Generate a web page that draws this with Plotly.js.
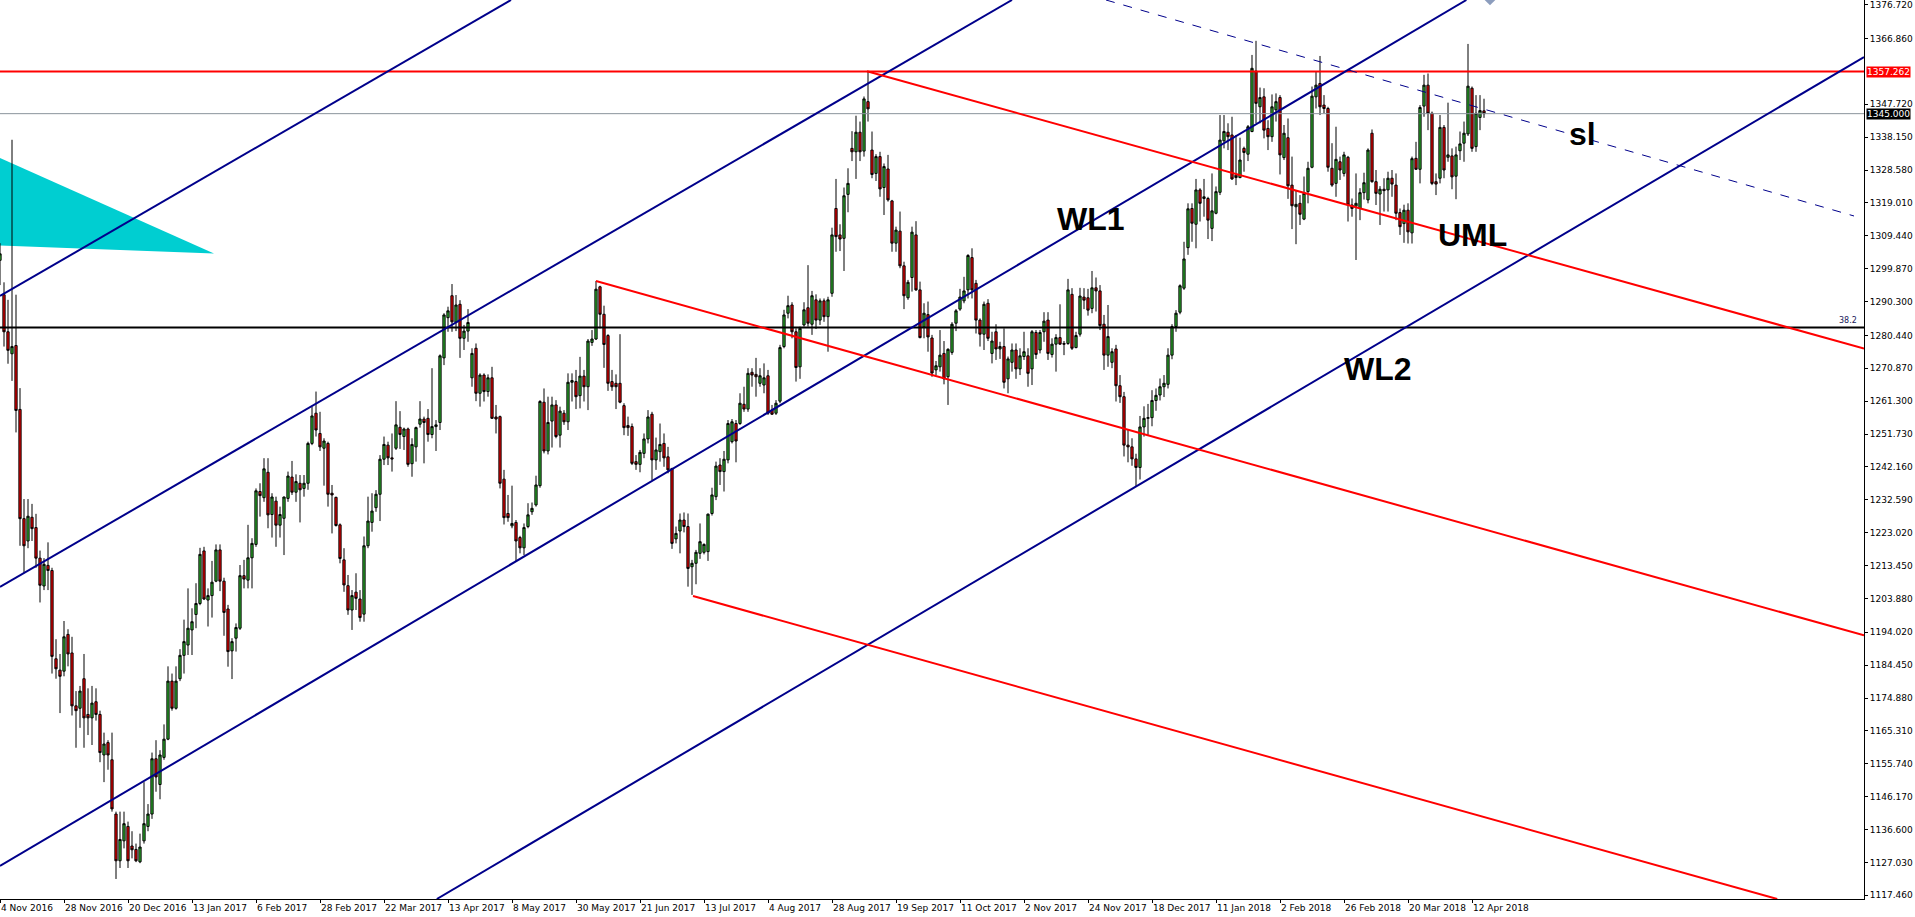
<!DOCTYPE html>
<html>
<head>
<meta charset="utf-8">
<script src="https://cdn.plot.ly/plotly-3.0.1.min.js"></script>
<style>
  html, body { margin: 0; padding: 0; background: #fff; }
  #chart { width: 1915px; height: 917px; }
</style>
</head>
<body>
<div id="chart"></div>
<script>
// GOLD, Daily - one entry per bar, bar 0 = 4 Nov 2016
var opens = [
1302.3,1292.3,1281.5,1275.1,1277.5,1258.9,1227.1,1220.6,1227.5,1224.5,
1215.6,1207.5,1213.5,1212.0,1186.3,1183.0,1182.7,1193.4,1188.0,1172.6,
1171.9,1180.5,1170.1,1169.1,1173.8,1170.1,1158.3,1161.9,1156.9,1141.1,
1127.5,1133.3,1137.5,1131.8,1130.8,1127.2,1133.3,1137.5,1141.1,1157.2,
1149.7,1157.6,1162.9,1179.8,1171.9,1180.5,1187.3,1190.3,1194.7,1199.2,
1202.4,1217.7,1203.4,1204.7,1208.9,1218.0,1208.9,1200.8,1188.6,1192.3,
1195.2,1210.5,1209.2,1215.7,1219.6,1235.0,1233.2,1240.6,1228.3,1232.2,
1225.2,1227.2,1233.0,1239.2,1234.8,1237.4,1235.9,1237.4,1249.0,1257.8,
1251.9,1247.6,1249.0,1234.5,1233.3,1225.3,1215.1,1207.6,1200.5,1205.7,
1203.7,1199.3,1219.2,1226.0,1230.3,1234.2,1244.4,1248.5,1244.8,1247.6,
1253.7,1251.0,1253.2,1243.1,1248.0,1254.6,1256.1,1256.3,1251.6,1253.9,
1255.1,1273.9,1285.6,1292.0,1284.3,1289.5,1279.6,1281.7,1268.1,1276.7,
1263.6,1268.9,1264.1,1268.1,1256.7,1256.8,1238.6,1228.6,1225.0,1226.0,
1221.6,1218.6,1224.8,1229.1,1231.1,1236.7,1261.0,1246.8,1255.5,1260.2,
1251.4,1257.8,1255.3,1266.8,1267.0,1262.9,1268.6,1265.5,1278.4,1279.4,
1294.6,1286.6,1280.4,1267.0,1266.5,1266.5,1260.0,1254.2,1253.9,1243.7,
1242.9,1246.1,1250.3,1257.5,1244.2,1246.6,1249.0,1245.1,1241.7,1221.2,
1223.5,1226.7,1224.8,1213.1,1214.1,1217.0,1217.3,1217.5,1228.6,1233.5,
1242.7,1240.8,1244.2,1249.5,1254.8,1254.8,1260.4,1259.0,1269.7,1269.1,
1266.5,1266.0,1268.7,1258.7,1257.8,1261.3,1277.2,1286.9,1289.3,1281.5,
1271.3,1283.5,1288.5,1283.7,1290.8,1284.9,1290.5,1285.9,1292.7,1317.4,
1309.7,1308.7,1321.5,1334.9,1333.9,1339.6,1334.1,1348.5,1334.4,1327.6,
1332.5,1323.5,1328.9,1319.6,1307.3,1310.8,1300.7,1291.4,1297.3,1309.7,
1293.7,1282.9,1286.5,1279.7,1270.4,1271.3,1275.2,1268.4,1275.5,1284.0,
1288.1,1290.5,1293.7,1303.1,1295.6,1284.9,1280.8,1289.8,1275.2,1281.5,
1276.5,1277.2,1267.8,1272.6,1276.2,1270.7,1274.3,1274.5,1270.7,1281.3,
1276.2,1281.5,1284.9,1274.9,1277.9,1279.8,1278.1,1278.1,1292.4,1276.9,
1280.8,1291.6,1291.4,1288.3,1294.3,1293.4,1283.7,1274.7,1272.6,1276.5,
1265.8,1262.6,1248.5,1248.0,1244.5,1242.0,1253.8,1256.3,1256.5,1261.5,
1263.1,1265.5,1266.2,1274.7,1283.0,1287.2,1294.2,1306.0,1317.4,1312.8,
1322.8,1320.3,1320.3,1311.6,1316.0,1322.1,1337.1,1339.6,1338.8,1327.1,
1326.4,1334.9,1333.2,1339.8,1357.4,1347.0,1349.9,1340.7,1338.3,1346.1,
1349.7,1332.2,1338.0,1324.2,1317.9,1318.9,1314.3,1322.3,1329.4,1349.9,
1353.8,1347.5,1346.5,1329.1,1324.7,1331.0,1327.6,1332.3,1318.4,1318.1,
1317.4,1322.0,1319.9,1339.3,1325.2,1321.6,1323.0,1322.8,1326.2,1324.2,
1316.2,1313.0,1316.9,1310.3,1332.0,1328.8,1347.2,1353.3,1345.1,1325.2,
1326.2,1341.0,1332.3,1332.7,1326.8,1334.2,1336.4,1339.1,1352.4,1335.4,
1343.9,1345.82
];
var highs = [
1307.3,1295.9,1290.8,1337.4,1292.3,1265.1,1232.8,1232.8,1231.4,1228.5,
1217.8,1215.6,1220.2,1212.8,1192.0,1187.7,1197.3,1194.9,1192.7,1176.9,
1178.4,1187.7,1177.7,1178.4,1177.7,1171.2,1164.8,1162.6,1164.8,1141.8,
1141.8,1141.8,1138.9,1136.1,1132.5,1135.4,1150.4,1144.0,1159.0,1162.6,
1159.7,1167.2,1184.1,1182.0,1184.1,1189.1,1197.7,1206.8,1201.0,1208.3,
1218.6,1218.9,1206.8,1214.8,1219.6,1219.6,1209.9,1202.0,1192.3,1196.6,
1213.6,1215.1,1225.3,1221.4,1235.9,1237.4,1244.7,1244.7,1234.5,1233.5,
1230.6,1233.5,1240.8,1243.9,1240.0,1239.8,1239.8,1249.5,1259.7,1264.1,
1258.2,1250.5,1249.5,1236.9,1233.5,1225.7,1218.5,1210.7,1206.3,1211.2,
1206.3,1221.9,1233.5,1234.5,1235.4,1245.6,1251.0,1249.5,1251.9,1261.3,
1258.4,1253.6,1253.6,1250.5,1253.9,1261.3,1256.8,1259.0,1270.9,1255.8,
1274.9,1286.9,1288.8,1295.4,1292.2,1290.7,1283.5,1288.1,1276.7,1278.1,
1269.4,1269.4,1269.1,1271.3,1260.2,1257.1,1241.3,1234.0,1236.7,1226.7,
1222.1,1225.7,1231.6,1231.8,1239.6,1261.6,1265.0,1262.6,1262.6,1261.6,
1259.7,1258.7,1269.4,1269.4,1270.4,1274.2,1270.4,1279.4,1282.0,1296.3,
1294.9,1289.1,1280.8,1270.4,1269.1,1280.8,1260.7,1256.8,1254.8,1245.6,
1247.1,1251.9,1258.7,1258.2,1250.7,1254.8,1251.9,1248.0,1241.9,1224.8,
1228.6,1228.9,1228.6,1215.1,1218.0,1225.7,1219.9,1228.6,1236.1,1243.7,
1244.7,1246.8,1255.8,1256.1,1255.8,1263.6,1265.5,1270.9,1270.9,1273.9,
1270.9,1272.3,1270.4,1260.2,1261.6,1277.7,1287.9,1292.0,1290.1,1282.5,
1283.0,1290.1,1300.9,1293.4,1292.4,1291.2,1291.2,1291.7,1311.8,1326.0,
1312.8,1323.5,1329.1,1339.9,1344.4,1342.7,1350.0,1357.2,1339.8,1333.2,
1333.9,1330.5,1333.0,1319.9,1312.1,1316.5,1301.9,1296.6,1312.1,1313.7,
1296.1,1289.8,1290.3,1280.6,1273.0,1282.0,1278.8,1276.7,1284.3,1288.1,
1294.0,1297.5,1304.1,1305.8,1296.6,1285.4,1290.3,1291.0,1281.5,1283.7,
1278.6,1282.5,1274.3,1278.1,1278.1,1276.7,1281.5,1276.7,1282.0,1282.0,
1282.0,1287.2,1287.2,1279.6,1280.8,1289.5,1278.8,1296.9,1294.2,1281.5,
1294.3,1294.2,1294.0,1299.2,1297.3,1295.1,1286.4,1289.3,1276.7,1277.7,
1268.9,1264.0,1253.0,1250.5,1246.0,1257.0,1259.8,1260.5,1264.5,1265.0,
1267.9,1268.9,1276.7,1283.7,1287.8,1295.3,1307.7,1318.9,1318.9,1326.0,
1323.3,1326.0,1320.8,1327.6,1323.8,1344.6,1344.6,1342.2,1344.1,1338.8,
1338.0,1335.4,1341.7,1362.1,1366.2,1352.6,1352.4,1343.1,1350.6,1350.9,
1350.4,1341.7,1343.6,1332.5,1322.5,1321.3,1326.7,1331.0,1352.9,1357.2,
1361.8,1350.4,1347.0,1336.4,1341.2,1332.5,1333.9,1332.7,1320.3,1327.6,
1323.3,1327.8,1334.9,1340.4,1328.6,1323.9,1326.2,1328.1,1328.6,1327.6,
1317.4,1318.5,1318.9,1332.5,1336.8,1347.5,1356.3,1356.7,1345.6,1327.6,
1344.6,1341.7,1348.2,1334.9,1335.4,1339.8,1342.7,1365.3,1352.9,1350.4,
1350.4,1349.35
];
var lows = [
1295.1,1277.2,1272.2,1267.2,1252.2,1219.2,1211.3,1218.5,1220.6,1212.8,
1202.7,1206.3,1206.3,1182.0,1180.5,1170.5,1181.2,1184.1,1169.8,1160.4,
1166.2,1160.4,1164.1,1161.2,1168.3,1156.2,1150.4,1154.0,1141.8,1122.2,
1125.4,1131.1,1125.4,1128.2,1127.1,1126.8,1132.5,1136.1,1139.7,1147.6,
1145.4,1156.9,1162.6,1171.2,1171.5,1179.8,1182.0,1187.4,1187.4,1195.2,
1201.9,1203.4,1195.7,1198.3,1208.6,1206.0,1193.0,1184.0,1180.4,1188.4,
1194.7,1206.8,1206.8,1206.8,1218.9,1227.7,1232.0,1224.3,1221.6,1218.9,
1221.6,1216.5,1232.0,1234.0,1232.0,1226.0,1233.5,1235.5,1248.5,1251.0,
1246.8,1236.7,1230.6,1222.8,1224.8,1214.1,1205.8,1199.1,1194.7,1200.5,
1197.1,1197.1,1218.5,1223.3,1229.1,1226.4,1242.7,1242.7,1240.8,1247.1,
1247.4,1247.1,1242.2,1239.3,1243.7,1253.6,1243.2,1249.5,1250.5,1246.8,
1252.9,1271.8,1281.5,1281.5,1281.7,1273.9,1276.2,1278.6,1265.5,1261.3,
1259.7,1261.2,1262.6,1256.1,1251.9,1235.9,1225.4,1226.2,1224.3,1214.6,
1217.0,1216.5,1224.3,1228.2,1230.6,1236.1,1246.1,1245.8,1247.8,1250.5,
1247.8,1254.4,1252.9,1261.2,1259.0,1259.2,1261.2,1258.7,1277.4,1279.1,
1282.5,1271.0,1264.3,1264.3,1259.0,1260.7,1251.4,1251.2,1242.7,1241.3,
1240.6,1244.7,1249.0,1238.3,1241.3,1243.7,1242.2,1240.3,1218.3,1219.9,
1217.0,1223.1,1207.3,1204.9,1208.0,1215.4,1216.7,1214.8,1228.0,1232.5,
1236.9,1235.0,1243.2,1249.0,1243.5,1254.4,1258.2,1258.2,1265.5,1262.6,
1265.5,1263.6,1257.3,1257.3,1257.3,1260.7,1276.7,1285.4,1279.6,1267.0,
1267.8,1283.0,1283.0,1280.6,1282.3,1283.5,1284.4,1275.7,1291.7,1304.8,
1305.0,1299.2,1316.3,1331.2,1326.0,1331.2,1332.5,1342.7,1326.2,1325.4,
1320.8,1315.5,1319.4,1304.8,1304.8,1300.0,1288.1,1290.8,1293.2,1293.4,
1279.6,1279.6,1275.7,1268.4,1268.9,1269.9,1266.2,1260.2,1274.8,1281.7,
1287.6,1289.8,1291.2,1291.2,1281.0,1277.2,1276.2,1278.8,1272.3,1273.3,
1273.6,1265.0,1263.6,1269.9,1267.8,1268.9,1273.3,1265.5,1266.0,1273.6,
1275.2,1278.6,1273.3,1274.0,1269.9,1277.7,1274.7,1277.7,1276.2,1276.7,
1280.1,1288.1,1286.2,1286.9,1287.4,1282.0,1270.4,1271.3,1270.9,1261.2,
1260.8,1245.2,1243.5,1242.5,1236.5,1238.5,1251.0,1251.5,1254.0,1258.5,
1261.5,1262.5,1265.0,1273.5,1281.5,1286.6,1293.7,1303.9,1307.7,1305.8,
1313.6,1315.0,1308.5,1307.9,1315.7,1321.3,1334.9,1334.4,1325.7,1324.2,
1326.2,1328.1,1331.2,1339.6,1342.2,1342.2,1337.8,1334.4,1336.8,1342.7,
1327.3,1331.5,1320.2,1311.4,1307.0,1312.6,1314.0,1318.9,1329.1,1346.5,
1344.6,1345.1,1328.1,1323.7,1320.8,1325.7,1326.7,1313.6,1315.0,1302.4,
1314.0,1320.0,1318.9,1324.9,1318.4,1312.6,1316.5,1316.5,1320.8,1314.0,
1309.7,1307.4,1307.2,1307.2,1328.6,1324.7,1344.1,1340.2,1324.2,1321.3,
1324.7,1326.2,1331.0,1323.0,1320.1,1331.5,1331.0,1338.5,1333.9,1333.9,
1340.2,1343.77
];
var closes = [
1304.2,1281.5,1276.1,1277.2,1258.6,1227.1,1219.2,1227.8,1224.2,1215.6,
1207.7,1213.8,1212.0,1187.0,1183.4,1181.2,1192.7,1187.7,1172.6,1171.2,
1176.9,1169.1,1169.1,1173.4,1170.1,1159.0,1161.5,1158.3,1142.6,1127.5,
1133.7,1138.3,1127.5,1130.7,1127.5,1131.5,1138.3,1141.1,1157.2,1151.9,
1158.3,1162.9,1179.8,1171.9,1179.8,1187.3,1191.3,1195.2,1197.1,1202.4,
1216.7,1203.7,1204.7,1208.6,1218.0,1208.9,1199.8,1188.4,1191.3,1195.4,
1210.5,1209.5,1215.7,1219.9,1235.2,1233.8,1241.6,1228.2,1233.4,1225.2,
1228.3,1233.4,1239.5,1234.8,1237.9,1235.5,1237.4,1249.0,1257.0,1252.9,
1248.0,1249.7,1234.2,1234.0,1225.1,1215.5,1207.8,1200.5,1204.7,1203.9,
1198.3,1219.2,1226.4,1229.3,1234.2,1244.4,1248.7,1244.8,1244.5,1254.4,
1251.6,1253.2,1242.9,1248.7,1253.6,1256.1,1255.1,1251.6,1253.9,1254.4,
1274.5,1286.4,1287.6,1284.4,1289.3,1279.6,1281.7,1284.2,1275.2,1263.6,
1268.9,1264.1,1268.1,1256.3,1256.1,1237.4,1227.4,1227.4,1225.7,1220.6,
1218.6,1224.5,1228.2,1230.1,1236.9,1261.2,1246.8,1255.1,1260.2,1251.0,
1258.4,1255.3,1266.8,1267.3,1262.6,1268.6,1265.5,1278.8,1279.4,1293.9,
1286.6,1277.8,1266.5,1265.5,1265.5,1261.0,1253.6,1253.6,1243.2,1242.9,
1246.4,1250.3,1256.7,1244.2,1247.1,1248.7,1244.8,1241.3,1219.9,1222.8,
1226.7,1224.8,1212.6,1214.1,1217.3,1220.4,1219.6,1228.4,1234.0,1242.4,
1240.8,1244.4,1254.8,1255.3,1249.7,1260.7,1259.0,1269.4,1268.9,1268.4,
1268.7,1268.1,1257.8,1257.5,1260.7,1276.9,1286.4,1289.1,1281.5,1271.1,
1282.5,1287.9,1284.0,1292.0,1284.9,1290.5,1285.9,1290.8,1309.7,1309.2,
1308.5,1321.1,1324.7,1333.9,1339.6,1333.9,1349.3,1346.4,1327.3,1332.5,
1323.1,1329.6,1319.9,1307.3,1311.1,1300.7,1292.0,1295.9,1310.5,1293.7,
1279.8,1286.9,1280.0,1269.5,1271.6,1274.7,1267.8,1276.4,1283.7,1287.6,
1291.6,1293.4,1303.7,1293.7,1284.9,1280.8,1289.5,1279.6,1278.8,1276.5,
1277.2,1266.8,1273.6,1276.2,1270.7,1274.5,1275.7,1269.4,1281.5,1274.9,
1281.3,1284.6,1275.2,1277.9,1279.8,1277.9,1277.9,1293.7,1276.7,1280.4,
1291.9,1290.7,1287.8,1294.3,1293.4,1283.3,1274.7,1280.1,1275.7,1265.8,
1262.6,1248.5,1248.0,1244.5,1242.0,1253.8,1256.3,1256.5,1261.5,1263.0,
1265.5,1266.5,1274.7,1283.0,1286.9,1294.9,1302.7,1317.3,1313.1,1322.8,
1318.9,1320.8,1314.0,1316.7,1322.3,1337.3,1339.8,1338.3,1326.0,1326.4,
1331.5,1333.7,1341.2,1358.2,1348.0,1349.7,1340.2,1338.3,1347.0,1348.5,
1333.0,1339.3,1324.0,1318.2,1318.6,1315.7,1321.8,1329.1,1350.1,1353.3,
1347.0,1346.5,1329.4,1324.2,1331.7,1328.6,1333.0,1318.4,1317.4,1318.9,
1322.0,1324.9,1334.4,1325.2,1321.8,1323.0,1322.6,1326.2,1324.5,1316.0,
1312.1,1316.9,1310.6,1331.9,1328.8,1346.8,1353.3,1345.1,1324.7,1324.5,
1341.0,1328.6,1333.0,1326.6,1333.0,1336.2,1339.3,1353.0,1334.9,1345.1,
1345.9,1345.0
];

// date labels on the time scale (bar index -> text)
var tickBars = [0,16,32,48,64,80,96,112,128,144,160,176,192,208,224,240,256,272,288,304,320,336,352,368];
var tickLabels = ["4 Nov 2016","28 Nov 2016","20 Dec 2016","13 Jan 2017","6 Feb 2017","28 Feb 2017",
  "22 Mar 2017","13 Apr 2017","8 May 2017","30 May 2017","21 Jun 2017","13 Jul 2017","4 Aug 2017",
  "28 Aug 2017","19 Sep 2017","11 Oct 2017","2 Nov 2017","24 Nov 2017","18 Dec 2017","11 Jan 2018",
  "2 Feb 2018","26 Feb 2018","20 Mar 2018","12 Apr 2018"];

// price scale labels
var priceTicks = [1376.720,1366.860,1347.720,1338.150,1328.580,1319.010,1309.440,1299.870,1290.300,
  1280.440,1270.870,1261.300,1251.730,1242.160,1232.590,1223.020,1213.450,1203.880,1194.020,
  1184.450,1174.880,1165.310,1155.740,1146.170,1136.600,1127.030,1117.460];

var priceMin = 1116.37, priceMax = 1378.09;
var barMax = 466;

// horizontal levels
var resistance = 1357.262;
var bidPrice = 1345.000;
var fibo382 = 1282.76;

// objects drawn on the chart: [bar, price] anchors
var blueLines = [
  [[0, 1291.92], [127.75, 1378.09]],
  [[0, 1207.20], [253.0, 1378.09]],
  [[0, 1125.98], [366.6, 1378.09]],
  [[109.2, 1116.37], [466, 1361.49]]
];
var redLines = [
  [[216.75, 1357.33], [466, 1276.63]],
  [[149.0, 1296.28], [466, 1193.11]],
  [[173.25, 1204.58], [444.3, 1116.37]]
];
var slLine = [[276.5, 1378.09], [463.5, 1315.21]];
var triangle = [[0, 1332.09], [53.5, 1304.32], [0, 1306.65]];
var arrowMark = [372.5, 1379.0];

var labels = [
  {text: "WL1", bar: 272.7, price: 1314.3},
  {text: "UML", bar: 368.0, price: 1309.7},
  {text: "WL2", bar: 344.5, price: 1270.7},
  {text: "sl",  bar: 395.7, price: 1339.1}
];

var bars = opens.map(function (v, i) { return i; });

var candles = {
  type: "candlestick",
  x: bars, open: opens, high: highs, low: lows, close: closes,
  increasing: {line: {color: "#000000", width: 1}, fillcolor: "#2fb82f"},
  decreasing: {line: {color: "#000000", width: 1}, fillcolor: "#f20000"},
  whiskerwidth: 0,
  hoverinfo: "skip"
};

var marker = {
  type: "scatter", mode: "markers",
  x: [arrowMark[0]], y: [arrowMark[1]],
  marker: {symbol: "diamond", size: 13, color: "#8c9dbd"},
  hoverinfo: "skip", cliponaxis: true
};

var shapes = [];
var tri = "M " + triangle.map(function (p) { return p[0] + "," + p[1]; }).join(" L ") + " Z";
shapes.push({type: "path", path: tri, xref: "x", yref: "y", fillcolor: "#00ced1",
  line: {width: 0}, layer: "below"});

function seg(pts, color, width, dash) {
  return {type: "line", xref: "x", yref: "y", x0: pts[0][0], y0: pts[0][1], x1: pts[1][0], y1: pts[1][1],
    line: {color: color, width: width, dash: dash || "solid"}, layer: "above"};
}
function level(price, color, width) {
  return {type: "line", xref: "paper", yref: "y", x0: 0, x1: 1, y0: price, y1: price,
    line: {color: color, width: width}, layer: "above"};
}

shapes.push(level(bidPrice, "#8a939c", 1));
shapes.push(level(fibo382, "#000000", 2));
shapes.push(level(resistance, "#ff0000", 2));
blueLines.forEach(function (l) { shapes.push(seg(l, "#00008b", 2)); });
redLines.forEach(function (l) { shapes.push(seg(l, "#ff0000", 2)); });
shapes.push(seg(slLine, "#00008b", 1, "dash"));

var annotations = labels.map(function (l) {
  return {x: l.bar, y: l.price, xref: "x", yref: "y", text: l.text, showarrow: false,
    font: {family: "Liberation Sans, Arial, sans-serif", size: 32, color: "#000000", weight: "bold"}};
});
annotations.push({x: 1, xref: "paper", y: resistance, yref: "y", xanchor: "left", xshift: 2,
  text: resistance.toFixed(3), showarrow: false, bgcolor: "#ff0000", borderpad: 0,
  font: {family: "DejaVu Sans", size: 9, color: "#ffffff"}});
annotations.push({x: 1, xref: "paper", y: bidPrice, yref: "y", xanchor: "left", xshift: 2,
  text: bidPrice.toFixed(3), showarrow: false, bgcolor: "#000000", borderpad: 0,
  font: {family: "DejaVu Sans", size: 9, color: "#ffffff"}});
annotations.push({x: 1, xref: "paper", y: fibo382, yref: "y", xanchor: "right", yanchor: "bottom",
  xshift: -5, text: "38.2", showarrow: false,
  font: {family: "DejaVu Sans", size: 8, color: "#20205a"}});

var layout = {
  width: 1915, height: 917,
  margin: {l: 0, r: 51, t: 0, b: 18, pad: 0},
  paper_bgcolor: "#ffffff", plot_bgcolor: "#ffffff",
  showlegend: false,
  hovermode: false,
  boxgap: 0.2,
  xaxis: {
    range: [0, barMax], rangeslider: {visible: false},
    showgrid: false, zeroline: false, showline: true, linecolor: "#000000", linewidth: 1,
    tickmode: "array", tickvals: tickBars, ticktext: tickLabels,
    ticks: "outside", ticklen: 3, tickcolor: "#000000", tickangle: 0,
    ticklabelposition: "outside right", ticklabeloverflow: "allow",
    tickfont: {family: "DejaVu Sans", size: 9, color: "#000000"}
  },
  yaxis: {
    side: "right", range: [priceMin, priceMax],
    showgrid: false, zeroline: false, showline: true, linecolor: "#000000", linewidth: 1,
    tickmode: "array", tickvals: priceTicks,
    ticktext: priceTicks.map(function (v) { return v.toFixed(3); }),
    ticks: "outside", ticklen: 3, tickcolor: "#000000", ticklabeloverflow: "allow",
    tickfont: {family: "DejaVu Sans", size: 9, color: "#000000"}
  },
  shapes: shapes,
  annotations: annotations
};

Plotly.newPlot("chart", [candles, marker], layout, {staticPlot: true, displayModeBar: false});
</script>
</body>
</html>
